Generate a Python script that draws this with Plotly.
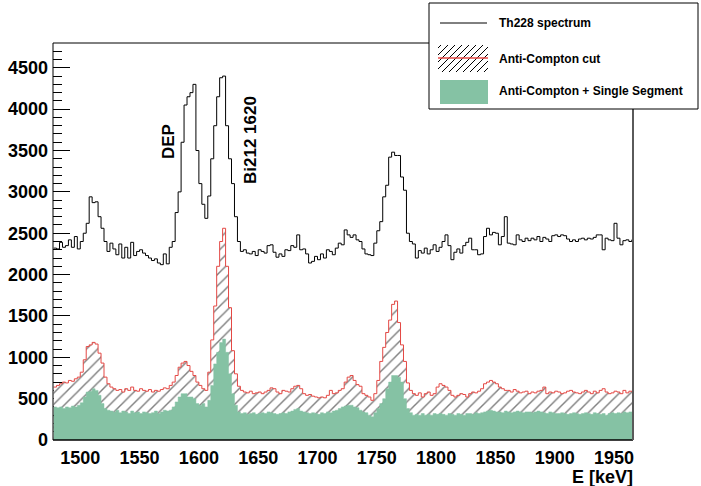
import numpy as np
import plotly.graph_objects as go

# ---------------- data (2.5 keV bins starting at 1477.5 keV) ----------------
bin_lo = 1477.5
bin_width = 2.5

th228_spectrum = [
    2320, 2310, 2390, 2330, 2350, 2420, 2330, 2460, 2310, 2400,
    2500, 2620, 2940, 2870, 2880, 2700, 2560, 2400, 2280, 2380,
    2310, 2240, 2370, 2200, 2330, 2200, 2390, 2230, 2280, 2300,
    2260, 2230, 2200, 2170, 2190, 2140, 2120, 2250, 2130, 2330,
    2400, 2750, 3000, 3600, 4050, 4150, 4200, 4300, 3500, 3100,
    2850, 2680, 2950, 3400, 3800, 4150, 4380, 4400, 3800, 3400,
    3100, 2700, 2400, 2280, 2300, 2260, 2250, 2280, 2230, 2300,
    2280, 2260, 2350, 2360, 2270, 2210, 2250, 2220, 2300, 2290,
    2350, 2330, 2480, 2300, 2310, 2250, 2140, 2160, 2220, 2180,
    2250, 2200, 2300, 2280, 2240, 2320, 2380, 2360, 2540, 2480,
    2450, 2480, 2420, 2400, 2310, 2250, 2240, 2230, 2380, 2530,
    2640, 2940, 3080, 3420, 3480, 3440, 3440, 3180, 3020, 2500,
    2400, 2370, 2200, 2290, 2260, 2320, 2250, 2300, 2360, 2280,
    2330, 2400, 2480, 2350, 2180, 2270, 2310, 2260, 2350, 2390,
    2440, 2300, 2300, 2240, 2250, 2460, 2560, 2480, 2510, 2500,
    2360, 2460, 2700, 2380, 2370, 2360, 2480, 2420, 2400, 2440,
    2410, 2440, 2420, 2460, 2400, 2450, 2430, 2400, 2470, 2480,
    2460, 2480, 2470, 2430, 2400, 2420, 2400, 2430, 2440, 2420,
    2440, 2430, 2450, 2480, 2480, 2300, 2440, 2420, 2410, 2620,
    2440, 2360, 2410, 2420, 2400, 2420,
]

anti_compton_cut = [
    640, 660, 680, 700, 690, 720, 710, 740, 760, 820,
    970, 1130, 1150, 1180, 1160, 1050, 930, 760, 680, 640,
    620, 600, 610, 580, 620, 600, 640, 600, 590, 620,
    600, 590, 610, 580, 600, 590, 610, 630, 620, 660,
    700, 780, 880, 930, 950, 900, 830, 780, 700, 660,
    620, 600, 820, 1210, 1620, 2100, 2400, 2560, 2100, 1600,
    1080, 800, 650, 600, 580, 570, 590, 560, 570, 580,
    560, 580, 600, 630, 620, 580, 560, 600, 590, 580,
    620, 650, 660, 620, 560, 540, 550, 530, 520, 510,
    520, 510, 540, 600, 560, 570, 600, 620, 700, 760,
    780, 720, 670, 650, 560, 540, 520, 480, 560, 720,
    950, 1120, 1300, 1450, 1640, 1680, 1420, 1150, 950, 690,
    600, 560, 540, 570, 520, 560, 580, 540, 560, 640,
    680, 660, 640, 600, 540, 520, 540, 560, 550, 520,
    560, 580, 570, 590, 620, 680, 700, 720, 700, 680,
    640, 620, 600, 600, 580, 610, 590, 570, 580, 590,
    560, 580, 570, 590, 600, 640, 560, 580, 570, 590,
    580, 560, 570, 590, 600, 580, 570, 560, 580, 600,
    580, 560, 590, 570, 600, 620, 580, 560, 570, 590,
    580, 560, 600, 570, 590, 580,
]

anti_compton_single_segment = [
    400, 390, 400, 380, 400, 390, 410, 400, 420, 450,
    520, 580, 590, 620, 600, 540, 440, 380, 360, 350,
    340, 360, 330, 350, 340, 320, 350, 330, 340, 320,
    340, 330, 320, 330, 350, 320, 340, 360, 350, 360,
    400, 460, 520, 560, 560, 520, 520, 500, 440, 420,
    440, 400, 480, 660, 920, 1060, 1180, 1220, 1060, 800,
    560, 420, 340, 320, 330, 310, 320, 330, 310, 320,
    330, 320, 340, 330, 320, 310, 320, 330, 320, 340,
    350, 370, 380, 350, 340, 330, 320, 330, 320, 310,
    330, 320, 340, 330, 350, 360, 380, 400, 410, 420,
    420, 400, 390, 360, 340, 330, 300, 280, 330, 380,
    440, 500, 620, 700, 780, 780, 760, 700, 500, 380,
    330, 300, 310, 300, 320, 300, 310, 300, 320, 310,
    320, 310, 300, 320, 310, 300, 320, 310, 300, 320,
    320, 310, 330, 320, 330, 340, 350, 360, 350, 340,
    340, 330, 350, 340, 330, 340, 350, 340, 330, 340,
    340, 330, 340, 350, 340, 330, 320, 340, 330, 320,
    320, 330, 320, 310, 320, 330, 320, 310, 320, 330,
    320, 310, 330, 320, 310, 320, 300, 320, 330, 320,
    330, 320, 340, 330, 340, 340,
]

legend_labels = ["Th228 spectrum", "Anti-Compton cut", "Anti-Compton + Single Segment"]
peak_labels = ["DEP", "Bi212 1620"]
x_title = "E [keV]"

# ---------------- styling ----------------
W, H = 701, 486
ML, MR, MT, MB = 53, 68, 43, 46
PW, PH = W - ML - MR, H - MT - MB
GREEN = "#85c2a4"
RED = "rgb(228,72,68)"
FONT = "Liberation Sans"


def px(x):
    return (x - ML) / PW


def py(y):
    return (H - MB - y) / PH


n = len(th228_spectrum)
edges = bin_lo + bin_width * np.arange(n + 1)


def step(vals):
    return list(edges), list(vals) + [vals[-1]]


fig = go.Figure()

xa, ya = step(anti_compton_cut)
fig.add_trace(go.Scatter(
    x=xa, y=ya, mode="lines", line=dict(shape="hv", color=RED, width=1),
    fill="tozeroy", fillcolor="white",
    fillpattern=dict(shape="/", fgcolor="black", bgcolor="white", size=8, solidity=0.18),
    showlegend=False, hoverinfo="skip"))

xg, yg = step(anti_compton_single_segment)
fig.add_trace(go.Scatter(
    x=xg, y=yg, mode="lines", line=dict(shape="hv", color=GREEN, width=0.5),
    fill="tozeroy", fillcolor=GREEN, showlegend=False, hoverinfo="skip"))

xb, yb = step(th228_spectrum)
fig.add_trace(go.Scatter(
    x=xb, y=yb, mode="lines", line=dict(shape="hv", color="black", width=1),
    showlegend=False, hoverinfo="skip"))

tickfont = dict(family=FONT, size=18, color="black", weight="bold")

fig.update_xaxes(
    range=[1477, 1966], tick0=1500, dtick=50, ticks="inside", ticklen=10,
    tickcolor="black", tickwidth=1, tickfont=tickfont, showgrid=False,
    zeroline=False, showline=False, layer="below traces",
    ticklabelstandoff=5,
    minor=dict(dtick=10, ticks="inside", ticklen=5, tickcolor="black", showgrid=False))
fig.update_yaxes(
    range=[0, 4800], tick0=0, dtick=500, ticks="inside", ticklen=17,
    tickcolor="black", tickwidth=1, tickfont=tickfont, showgrid=False,
    zeroline=False, showline=False, layer="below traces",
    ticklabelstandoff=4,
    minor=dict(dtick=100, ticks="inside", ticklen=9, tickcolor="black", showgrid=False))

shapes = []
# frame
shapes.append(dict(type="line", xref="paper", yref="paper", x0=0, x1=0, y0=0, y1=1,
                   line=dict(color="black", width=1), layer="above"))
shapes.append(dict(type="line", xref="paper", yref="paper", x0=0, x1=1, y0=0, y1=0,
                   line=dict(color="black", width=1.5), layer="above"))
shapes.append(dict(type="line", xref="paper", yref="paper", x0=0, x1=1, y0=1, y1=1,
                   line=dict(color="black", width=1), layer="above"))
shapes.append(dict(type="line", xref="paper", yref="paper", x0=1, x1=1, y0=0, y1=1,
                   line=dict(color="rgb(90,90,90)", width=2), layer="above"))

# legend box
LX0, LY0, LX1, LY1 = 429, 3, 698, 109
shapes.append(dict(type="rect", xref="paper", yref="paper",
                   x0=px(LX0), x1=px(LX1), y0=py(LY1), y1=py(LY0),
                   fillcolor="white", line=dict(color="black", width=1), layer="above"))
# line sample
shapes.append(dict(type="line", xref="paper", yref="paper",
                   x0=px(440), x1=px(487), y0=py(23), y1=py(23),
                   line=dict(color="black", width=1), layer="above"))
# hatch sample
hx0, hy0, hx1, hy1 = 438, 45, 488, 72
sp = 7
c = hx0 + hy0 + 3
while c < hx1 + hy1:
    sx = max(hx0, c - hy1)
    ex = min(hx1, c - hy0)
    if ex > sx:
        shapes.append(dict(type="line", xref="paper", yref="paper",
                           x0=px(sx), y0=py(c - sx), x1=px(ex), y1=py(c - ex),
                           line=dict(color="black", width=1), layer="above"))
    c += sp
shapes.append(dict(type="line", xref="paper", yref="paper",
                   x0=px(438), x1=px(488), y0=py(58), y1=py(58),
                   line=dict(color=RED, width=1.5), layer="above"))
# fill sample
shapes.append(dict(type="rect", xref="paper", yref="paper",
                   x0=px(440), x1=px(488), y0=py(104), y1=py(80),
                   fillcolor=GREEN, line=dict(width=0), layer="above"))

annotations = []
for lab, yy in zip(legend_labels, [23, 59, 91]):
    annotations.append(dict(text=lab, xref="paper", yref="paper", x=px(497), y=py(yy),
                            xanchor="left", yanchor="middle", showarrow=False,
                            font=dict(family=FONT, size=12, color="black", weight="bold")))
for lab, (xx, yy) in zip(peak_labels, [(168, 142), (250, 140)]):
    annotations.append(dict(text=lab, xref="paper", yref="paper", x=px(xx), y=py(yy),
                            xanchor="center", yanchor="middle", textangle=-90, showarrow=False,
                            font=dict(family=FONT, size=17, color="black", weight="bold")))
annotations.append(dict(text=x_title, xref="paper", yref="paper", x=px(635), y=py(477),
                        xanchor="right", yanchor="middle", showarrow=False,
                        font=dict(family=FONT, size=18, color="black", weight="bold")))

fig.update_layout(
    width=W, height=H, margin=dict(l=ML, r=MR, t=MT, b=MB, autoexpand=False),
    paper_bgcolor="white", plot_bgcolor="white",
    shapes=shapes, annotations=annotations, showlegend=False)

fig.write_html("out.html", config={"displayModeBar": False},
               post_script="document.body.style.margin='0';document.body.style.overflow='hidden';")
